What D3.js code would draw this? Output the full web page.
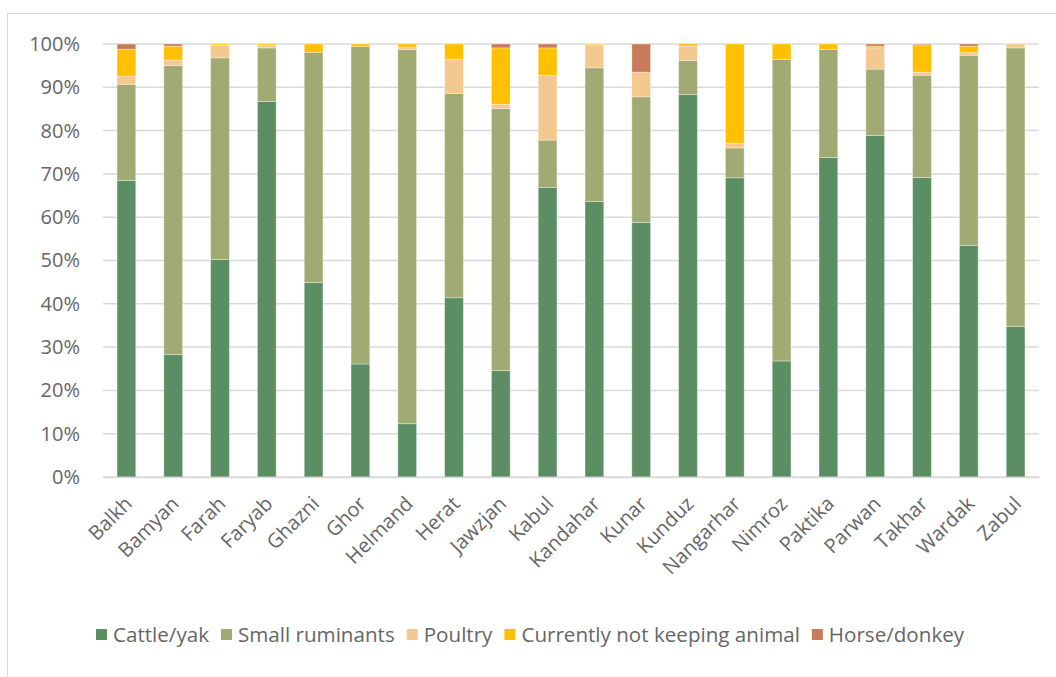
<!DOCTYPE html>
<html>
<head>
<meta charset="utf-8">
<script src="https://cdn.jsdelivr.net/npm/d3@7"></script>
<style>
  body { margin: 0; background: #fff; }
  text { font-family: "Open Sans", sans-serif; fill: #666666; }
</style>
</head>
<body>
<div id="chart"></div>
<script>
const categories = ["Balkh", "Bamyan", "Farah", "Faryab", "Ghazni", "Ghor", "Helmand", "Herat", "Jawzjan", "Kabul",
  "Kandahar", "Kunar", "Kunduz", "Nangarhar", "Nimroz", "Paktika", "Parwan", "Takhar", "Wardak", "Zabul"];

// percent shares per province
const cattleYak = [68.5, 28.3, 50.2, 86.7, 44.9, 26.1, 12.3, 41.4, 24.6, 66.9, 63.6, 58.8, 88.3, 69.1, 26.8, 73.8, 78.9, 69.2, 53.5, 34.8];
const smallRuminants = [22.2, 66.7, 46.6, 12.4, 53.2, 73.3, 86.4, 47.2, 60.5, 10.9, 30.9, 29.0, 7.9, 6.9, 69.6, 24.9, 15.3, 23.6, 43.9, 64.3];
const poultry = [1.9, 1.3, 2.9, 0.5, 0, 0, 0.6, 7.9, 1.0, 15.0, 5.3, 5.7, 3.3, 1.1, 0, 0, 4.9, 0.7, 0.6, 0.9];
const notKeeping = [6.2, 3.2, 0.3, 0.4, 1.9, 0.6, 0.7, 3.5, 13.0, 6.3, 0.2, 0, 0.5, 22.9, 3.6, 1.3, 0.4, 6.3, 1.5, 0];
const horseDonkey = [1.2, 0.5, 0, 0, 0, 0, 0, 0, 0.9, 0.9, 0, 6.5, 0, 0, 0, 0, 0.5, 0.2, 0.5, 0];

const seriesNames = ["Cattle/yak", "Small ruminants", "Poultry", "Currently not keeping animal", "Horse/donkey"];
const seriesValues = [cattleYak, smallRuminants, poultry, notKeeping, horseDonkey];
const colors = ["#5B8E63", "#A2AA73", "#F3C98F", "#FFC000", "#C87B59"];
const yTicks = [0, 0.1, 0.2, 0.3, 0.4, 0.5, 0.6, 0.7, 0.8, 0.9, 1];

const W = 1056, H = 677;
const svg = d3.select("#chart").append("svg")
  .attr("width", W)
  .attr("height", H);

// chart frame
svg.append("rect")
  .attr("x", 7.5).attr("y", 13.5)
  .attr("width", W + 20).attr("height", H + 20)
  .attr("fill", "none")
  .attr("stroke", "#d9d9d9");

const x = d3.scaleBand()
  .domain(categories)
  .range([103, 1039])
  .paddingInner(0.6)
  .paddingOuter(0.3);

const y = d3.scaleLinear()
  .domain([0, 1])
  .range([477, 44]);

// gridlines
svg.append("g")
  .selectAll("line")
  .data(yTicks)
  .join("line")
  .attr("x1", 103).attr("x2", 1039)
  .attr("y1", d => y(d)).attr("y2", d => y(d))
  .attr("stroke", "#d9d9d9")
  .attr("stroke-width", 1.5);

// y labels
const yAxis = d3.axisLeft(y).tickValues(yTicks).tickFormat(d3.format(".0%")).tickSize(0).tickPadding(0);
const yg = svg.append("g")
  .attr("transform", "translate(80,0)")
  .call(yAxis);
yg.select(".domain").remove();
yg.selectAll("text")
  .attr("font-size", 20)
  .attr("font-family", "Open Sans")
  .attr("fill", "#666666");

// stacked data
const rows = categories.map((c, i) => {
  const r = { name: c };
  seriesNames.forEach((s, k) => r[s] = seriesValues[k][i] / 100);
  return r;
});
const stacked = d3.stack().keys(seriesNames)(rows);

svg.append("g")
  .selectAll("g")
  .data(stacked)
  .join("g")
  .attr("fill", (d, i) => colors[i])
  .selectAll("rect")
  .data(d => d)
  .join("rect")
  .attr("x", d => x(d.data.name))
  .attr("width", x.bandwidth())
  .attr("y", d => y(d[1]))
  .attr("height", d => y(d[0]) - y(d[1]))
  .attr("stroke", "#ffffff")
  .attr("stroke-opacity", 0.45)
  .attr("stroke-width", 0.75);

// x axis
const xAxis = d3.axisBottom(x).tickSize(0).tickPadding(0);
const xg = svg.append("g")
  .attr("transform", "translate(0,477)")
  .call(xAxis);
xg.select(".domain").attr("stroke", "#d9d9d9").attr("stroke-width", 1.5);
xg.selectAll("text")
  .attr("font-size", 20)
  .attr("font-family", "Open Sans")
  .attr("fill", "#666666")
  .attr("text-anchor", "end")
  .attr("dy", null)
  .attr("y", 0)
  .attr("transform", "translate(7,28) rotate(-45)");

// legend
const legend = svg.append("g").attr("transform", "translate(96,635)");
let lx = 0;
seriesNames.forEach((s, i) => {
  legend.append("rect")
    .attr("x", lx).attr("y", -6)
    .attr("width", 11).attr("height", 11)
    .attr("fill", colors[i]);
  const t = legend.append("text")
    .attr("x", lx + 17).attr("y", 0)
    .attr("dy", "0.35em")
    .attr("font-size", 20.6)
    .attr("fill", "#666666")
    .text(s);
  lx += 17 + t.node().getComputedTextLength() + 12;
});
</script>
</body>
</html>
